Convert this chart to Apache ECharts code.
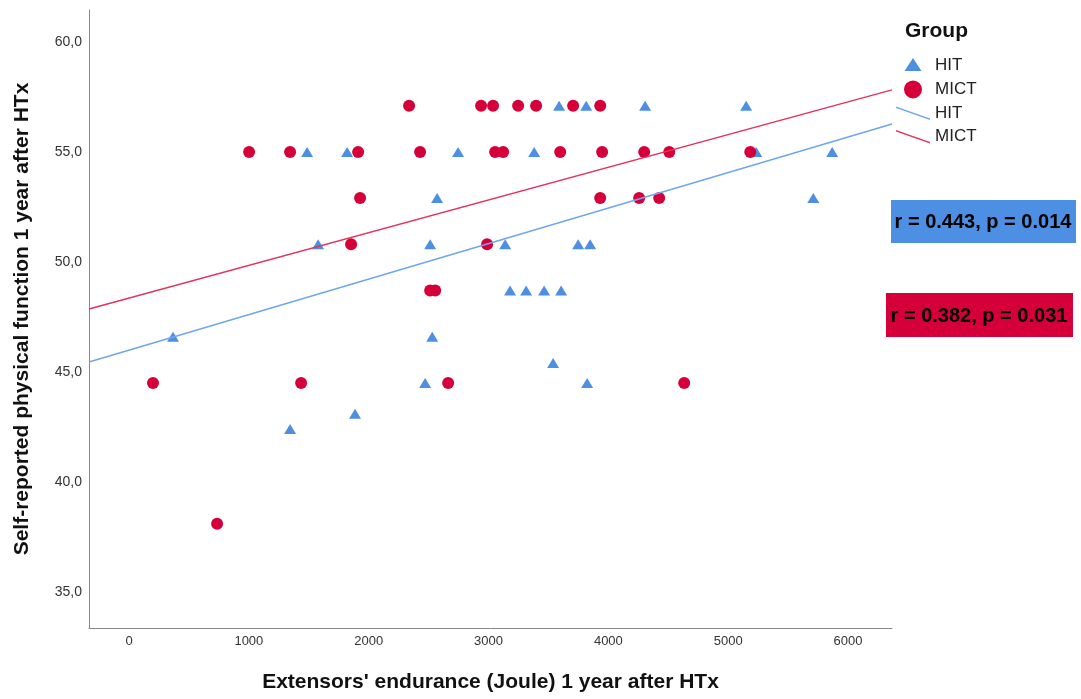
<!DOCTYPE html>
<html><head><meta charset="utf-8">
<script src="https://cdn.jsdelivr.net/npm/echarts@6/dist/echarts.min.js"></script>
<style>html,body{margin:0;padding:0;background:#fff}#c{width:1081px;height:699px}</style>
</head><body><div id="c"></div>
<script>
// ---- data ----
const hitX = [3589, 3815, 4307, 5150,
  1486, 1820, 2746, 3381, 5234, 5868,
  2571, 5710,
  1578, 2513, 3139, 3748, 3848,
  3180, 3314, 3464, 3606,
  367, 2530,
  3539,
  2471, 3823,
  1886,
  1344];
const hitY = [57.1, 57.1, 57.1, 57.1,
  55.0, 55.0, 55.0, 55.0, 55.0, 55.0,
  52.9, 52.9,
  50.8, 50.8, 50.8, 50.8, 50.8,
  48.7, 48.7, 48.7, 48.7,
  46.6, 46.6,
  45.4,
  44.5, 44.5,
  43.1,
  42.4];
const mictX = [2337, 2938, 3038, 3247, 3397, 3706, 3932,
  1002, 1344, 1912, 2429, 3055, 3122, 3598, 3948, 4299, 4508, 5184,
  1928, 3932, 4257, 4424,
  1853, 2988,
  2513, 2555,
  200, 1436, 2663, 4633,
  735];
const mictY = [57.1, 57.1, 57.1, 57.1, 57.1, 57.1, 57.1,
  55.0, 55.0, 55.0, 55.0, 55.0, 55.0, 55.0, 55.0, 55.0, 55.0, 55.0,
  52.9, 52.9, 52.9, 52.9,
  50.8, 50.8,
  48.7, 48.7,
  44.5, 44.5, 44.5, 44.5,
  38.1];
const fitX = [-334, 6367];
const fitHIT = [45.45, 56.27];
const fitMICT = [47.86, 57.82];
const xTicks = [0, 1000, 2000, 3000, 4000, 5000, 6000];
const yTicks = [35, 40, 45, 50, 55, 60];
const statHIT = 'r = 0.443, p = 0.014';
const statMICT = 'r = 0.382, p = 0.031';

const zip = (a, b) => a.map((v, i) => [v, b[i]]);
const BLUE = '#4d8fe3', RED = '#d5003a';
const BLUE_L = '#6fa6ef', RED_L = '#e0355a';
const FONT = 'Liberation Sans, Arial, sans-serif';
const linePath = 'path://M0,0 L34,12 L34,13.6 L0,1.6 Z';
const triIcon = 'path://M0,15 L8.5,2 L17,15 Z M8.5,0 L8.52,0 L8.5,0.02 Z M8.5,18 L8.52,18 L8.5,17.98 Z';

const chart = echarts.init(document.getElementById('c'));
chart.setOption({
  animation: false,
  backgroundColor: '#fff',
  textStyle: { fontFamily: FONT },
  title: {
    text: 'Group', left: 905, top: 21, padding: 0,
    textStyle: { fontSize: 21, fontWeight: 'bold', color: '#111', fontFamily: FONT }
  },
  legend: {
    orient: 'vertical', left: 896, top: 56, padding: 0,
    itemWidth: 34, itemHeight: 18, itemGap: 6.4,
    selectedMode: false,
    textStyle: { fontSize: 17, color: '#222', fontFamily: FONT },
    formatter: n => n.replace(' fit', ''),
    data: [
      { name: 'HIT', icon: triIcon },
      { name: 'MICT', icon: 'circle' },
      { name: 'HIT fit', icon: linePath },
      { name: 'MICT fit', icon: linePath }
    ]
  },
  grid: { left: 89, top: 10, width: 803, height: 618, containLabel: false },
  xAxis: {
    type: 'value', min: fitX[0], max: fitX[1],
    name: "Extensors' endurance (Joule) 1 year after HTx",
    nameLocation: 'middle', nameGap: 44,
    nameTextStyle: { fontSize: 21, fontWeight: 'bold', color: '#111', fontFamily: FONT },
    splitLine: { show: false }, axisTick: { show: false },
    axisLine: { lineStyle: { color: '#888', width: 1 } },
    axisLabel: { fontSize: 13, color: '#333', margin: 7,
      formatter: v => xTicks.includes(Math.round(v)) && Math.abs(v - Math.round(v)) < 1e-6 ? String(Math.round(v)) : '' }
  },
  yAxis: {
    type: 'value', min: 33.36, max: 61.45,
    name: 'Self-reported physical function 1 year after HTx',
    nameLocation: 'middle', nameGap: 56,
    nameTextStyle: { fontSize: 21, fontWeight: 'bold', color: '#111', fontFamily: FONT },
    splitLine: { show: false }, axisTick: { show: false },
    axisLine: { onZero: false, lineStyle: { color: '#888', width: 1 } },
    axisLabel: { fontSize: 14, color: '#333', margin: 7,
      formatter: v => yTicks.some(t => Math.abs(t - v) < 1e-6) ? v.toFixed(1).replace('.', ',') : '' }
  },
  series: [
    { name: 'HIT', type: 'scatter', data: zip(hitX, hitY),
      symbol: 'path://M0,9 L5.5,0 L11,9 Z', symbolSize: [12, 10],
      itemStyle: { color: BLUE, opacity: 1 }, z: 2 },
    { name: 'MICT', type: 'scatter', data: zip(mictX, mictY),
      symbol: 'circle', symbolSize: 12,
      itemStyle: { color: RED, opacity: 1 }, z: 3 },
    { name: 'HIT fit', type: 'line', data: zip(fitX, fitHIT), symbol: 'none',
      lineStyle: { color: BLUE_L, width: 1.5 }, itemStyle: { color: BLUE_L }, z: 4, silent: true },
    { name: 'MICT fit', type: 'line', data: zip(fitX, fitMICT), symbol: 'none',
      lineStyle: { color: RED_L, width: 1.5 }, itemStyle: { color: RED_L }, z: 4, silent: true }
  ],
  graphic: [
    { type: 'rect', left: 891, top: 200, shape: { width: 185, height: 43 },
      style: { fill: BLUE } },
    { type: 'text', x: 983, y: 222,
      style: { text: statHIT, font: 'bold 20px ' + FONT, fill: '#000', align: 'center', verticalAlign: 'middle' } },
    { type: 'rect', left: 886, top: 293, shape: { width: 187, height: 44 },
      style: { fill: RED } },
    { type: 'text', x: 979, y: 316,
      style: { text: statMICT, font: 'bold 20px ' + FONT, fill: '#000', align: 'center', verticalAlign: 'middle' } }
  ]
});
</script>
</body></html>
